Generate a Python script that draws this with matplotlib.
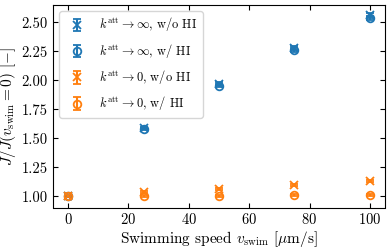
import matplotlib
matplotlib.use("Agg")
import matplotlib.pyplot as plt
import numpy as np

plt.rcParams['font.family'] = 'serif'
plt.rcParams['font.serif'] = ['cmr10']
plt.rcParams['mathtext.fontset'] = 'cm'
plt.rcParams['axes.formatter.use_mathtext'] = True
plt.rcParams['axes.unicode_minus'] = False

v_swim = [0, 25, 50, 75, 100]
inf_noHI = [1.00, 1.59, 1.97, 2.28, 2.56]
inf_HI = [1.00, 1.58, 1.955, 2.26, 2.535]
zero_noHI = [1.00, 1.035, 1.065, 1.10, 1.13]
zero_HI = [1.00, 1.005, 1.00, 1.01, 1.01]
err_inf_noHI = [0.005, 0.01, 0.012, 0.015, 0.018]
err_inf_HI = [0.005, 0.01, 0.012, 0.015, 0.018]
err_zero_noHI = [0.005, 0.01, 0.01, 0.01, 0.01]
err_zero_HI = [0.005, 0.01, 0.01, 0.01, 0.01]

labels = [r'$k^{\mathrm{att}}\to\infty$, w/o HI',
          r'$k^{\mathrm{att}}\to\infty$, w/ HI',
          r'$k^{\mathrm{att}}\to0$, w/o HI',
          r'$k^{\mathrm{att}}\to0$, w/ HI']

fig = plt.figure(figsize=(3.9, 2.5), dpi=100)
ax = fig.add_axes([0.136, 0.17, 0.851, 0.81])

blue = '#1f77b4'
orange = '#ff7f0e'
series = [(inf_noHI, err_inf_noHI, 'x', blue),
          (inf_HI, err_inf_HI, 'o', blue),
          (zero_noHI, err_zero_noHI, 'x', orange),
          (zero_HI, err_zero_HI, 'o', orange)]
for (y, e, m, c), lab in zip(series, labels):
    ax.errorbar(v_swim, y, yerr=e, fmt=m, color=c, mfc='none', ms=5.5,
                capsize=3, label=lab, mew=1.3)

ax.set_xlim(-5, 105)
ax.set_ylim(0.903, 2.65)
ax.set_xticks([0, 20, 40, 60, 80, 100])
ax.set_yticks([1.00, 1.25, 1.50, 1.75, 2.00, 2.25, 2.50])
ax.set_yticklabels(['1.00', '1.25', '1.50', '1.75', '2.00', '2.25', '2.50'])
ax.tick_params(direction='in', top=True, right=True, labelsize=10.5, pad=4)
ax.tick_params(axis='x', pad=3.5)
ax.set_xlabel(r'Swimming speed $v_{\mathrm{swim}}$ [$\mu$m/s]', fontsize=11, labelpad=1)
ax.set_ylabel(r'$J/J(v_{\mathrm{swim}}=0)$ [$-$]', fontsize=11, labelpad=2)
ax.legend(loc='upper left', fontsize=9, labelspacing=0.65)

fig.savefig('out.png', dpi=100)
